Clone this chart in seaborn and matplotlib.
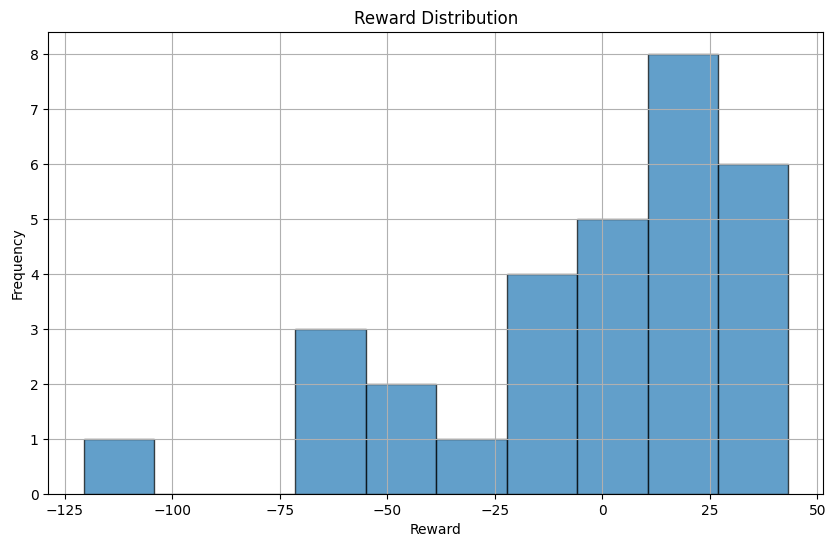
import matplotlib
matplotlib.use("Agg")
import matplotlib.pyplot as plt
import seaborn as sns
import numpy as np

# histogram bins (10 equal bins)
bin_edges = [-120.6, -104.2, -87.8, -71.4, -55.0, -38.6, -22.2, -5.8, 10.6, 27.0, 43.2]
bin_counts = [1, 0, 0, 3, 2, 1, 4, 5, 8, 6]

bin_centers = [(a + b) / 2 for a, b in zip(bin_edges[:-1], bin_edges[1:])]

fig = plt.figure(figsize=(8.35, 5.47), dpi=100)
ax = fig.add_axes([48.3 / 835, 1 - 494 / 547, 775 / 835, 461.7 / 547])

sns.histplot(x=bin_centers, weights=bin_counts, bins=bin_edges, ax=ax,
             color="#1f77b4", alpha=0.7, edgecolor=(0, 0, 0, 0.7), linewidth=1)

ax.set_title("Reward Distribution")
ax.set_xlabel("Reward")
ax.set_ylabel("Frequency")
ax.grid(True)

fig.savefig("out.png", dpi=100)
plt.close(fig)
